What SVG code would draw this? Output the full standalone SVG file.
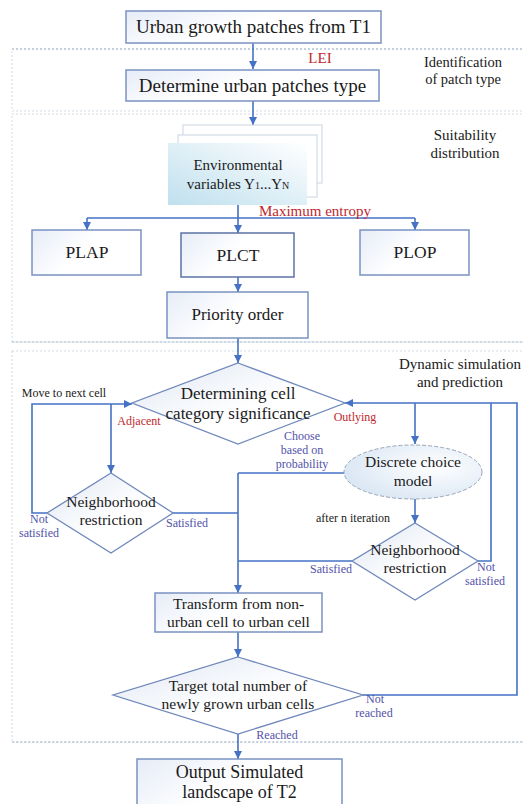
<svg xmlns="http://www.w3.org/2000/svg" width="523" height="804" viewBox="0 0 523 804" font-family="'Liberation Serif', 'DejaVu Serif', serif">
<defs>
<linearGradient id="boxg" x1="0" y1="0" x2="1" y2="0.4">
<stop offset="0" stop-color="#e6ecf7"/>
<stop offset="0.55" stop-color="#ffffff"/>
</linearGradient>
<linearGradient id="dg" x1="0" y1="0" x2="1" y2="1">
<stop offset="0" stop-color="#dfe7f3"/>
<stop offset="0.55" stop-color="#ffffff"/>
</linearGradient>
<linearGradient id="envg" x1="0" y1="1" x2="1" y2="0">
<stop offset="0" stop-color="#bfe0ee"/>
<stop offset="1" stop-color="#ffffff"/>
</linearGradient>
<radialGradient id="ellg" cx="0.65" cy="0.4" r="0.8">
<stop offset="0" stop-color="#ffffff"/>
<stop offset="1" stop-color="#d3e2f2"/>
</radialGradient>
<marker id="ah" viewBox="0 0 10 10" refX="10" refY="5" markerWidth="8" markerHeight="8" markerUnits="userSpaceOnUse" orient="auto">
<path d="M0,0 L10,5 L0,10 z" fill="#4472c4"/>
</marker>
<style>
.sec{fill:none;stroke:#a8bccd;stroke-width:1;stroke-dasharray:2 2}
.box{fill:url(#boxg);stroke:#7a92c2;stroke-width:1.5}
.dia{fill:url(#dg);stroke:#6f88bb;stroke-width:1.3}
.c{fill:none;stroke:#4472c4;stroke-width:1.6}
.a{marker-end:url(#ah)}
text{font-family:'Liberation Serif','DejaVu Serif',serif;fill:#1a1a1a;text-anchor:middle}
.red{fill:#c0282d}
.lb{fill:#5252aa}
.s12{font-size:12px}
</style>
</defs>

<g id="sections">
<rect class="sec" x="12" y="49" width="530" height="62" stroke-opacity="0.5"/>
<line x1="12" y1="49" x2="523" y2="49" stroke="#9fb3c8" stroke-dasharray="2 2"/>
<rect class="sec" x="12" y="114" width="530" height="228" stroke-opacity="0.5"/>
<line x1="12" y1="342" x2="523" y2="342" stroke="#9fb3c8" stroke-dasharray="2 2"/>
<rect class="sec" x="12" y="351" width="530" height="391" stroke-opacity="0.5"/>
<line x1="12" y1="742" x2="523" y2="742" stroke="#9fb3c8" stroke-dasharray="2 2"/>
<text x="463" y="67" font-size="14.5">Identification</text>
<text x="463" y="84" font-size="14.5">of patch type</text>
<text x="465" y="140" font-size="15">Suitability</text>
<text x="465" y="158" font-size="15">distribution</text>
<text x="460" y="369" font-size="15">Dynamic simulation</text>
<text x="460" y="387" font-size="15">and prediction</text>
</g>

<g id="connectors">
<path class="c a" d="M253,43 V69"/>
<path class="c a" d="M253,101 V125"/>
<path class="c" d="M238,205 V218 M87,218 H415"/>
<path class="c a" d="M87,218 V230"/>
<path class="c a" d="M238,218 V233"/>
<path class="c a" d="M415,218 V230"/>
<path class="c a" d="M238,277 V292"/>
<path class="c a" d="M238,338 V363"/>
<path class="c a" d="M47,513 H32 V404 H132"/>
<path class="c a" d="M111,404 V473"/>
<path class="c" d="M173,513 H238"/>
<path class="c" d="M344,473 H238"/>
<path class="c a" d="M238,473 V593"/>
<path class="c" d="M352,561 H238"/>
<path class="c" d="M478,561 H491 V403"/>
<path class="c a" d="M363,695 H517 V403 H345"/>
<path class="c a" d="M415,403 V444"/>
<path class="c a" d="M415,499 V523"/>
<path class="c a" d="M238,632 V657"/>
<path class="c a" d="M238,734 V759"/>
<text class="red" x="320" y="63" font-size="15">LEI</text>
<text class="red" x="315" y="216" font-size="15">Maximum entropy</text>
<text x="64" y="397" class="s12">Move to next cell</text>
<text class="red s12" x="139" y="425">Adjacent</text>
<text class="red s12" x="355" y="421">Outlying</text>
<text class="lb s12" x="302" y="440">Choose</text>
<text class="lb s12" x="302" y="454">based on</text>
<text class="lb s12" x="302" y="468">probability</text>
<text x="353" y="522" class="s12">after n iteration</text>
<text class="lb s12" x="39" y="523">Not</text>
<text class="lb s12" x="39" y="537">satisfied</text>
<text class="lb s12" x="187" y="527">Satisfied</text>
<text class="lb s12" x="331" y="573">Satisfied</text>
<text class="lb s12" x="486" y="571">Not</text>
<text class="lb s12" x="485" y="585">satisfied</text>
<text class="lb s12" x="375" y="703">Not</text>
<text class="lb s12" x="374" y="717">reached</text>
<text class="lb s12" x="277" y="739">Reached</text>
</g>

<g id="n-urban-growth">
<rect class="box" x="126" y="11" width="255" height="32"/>
<text x="253.5" y="33" font-size="19">Urban growth patches from T1</text>
</g>

<g id="n-determine-type">
<rect class="box" x="126" y="70" width="253" height="31"/>
<text x="252.5" y="92" font-size="19">Determine urban patches type</text>
</g>

<g id="n-env-vars">
<rect x="183" y="125" width="139" height="58" fill="#ffffff" stroke="#c9d4e2" stroke-width="1"/>
<rect x="178" y="135" width="139" height="62" fill="#ffffff" stroke="#c9d4e2" stroke-width="1"/>
<rect x="168" y="143" width="139" height="62" fill="url(#envg)"/>
<text x="238" y="170" font-size="15">Environmental</text>
<text x="238" y="189" font-size="15">variables Y<tspan font-size="10">1</tspan>...Y<tspan font-size="10">N</tspan></text>
</g>

<g id="n-plap">
<rect class="box" x="32" y="230" width="109" height="45"/>
<text x="87" y="258" font-size="17.5">PLAP</text>
</g>
<g id="n-plct">
<rect class="box" x="181" y="233" width="113" height="44" style="stroke:#5c73a6"/>
<text x="238" y="261" font-size="17.5">PLCT</text>
</g>
<g id="n-plop">
<rect class="box" x="360" y="230" width="109" height="45"/>
<text x="415" y="258" font-size="17.5">PLOP</text>
</g>

<g id="n-priority">
<rect class="box" x="167" y="292" width="141" height="46"/>
<text x="237.5" y="320" font-size="17">Priority order</text>
</g>

<g id="n-determining-cell">
<polygon class="dia" points="238,363 345,403 238,444 132,403"/>
<text x="238" y="399" font-size="17">Determining cell</text>
<text x="238" y="419" font-size="17">category significance</text>
</g>

<g id="n-neigh-left">
<polygon class="dia" points="111,473 173,513 111,553 47,513"/>
<text x="111" y="507" font-size="15.5">Neighborhood</text>
<text x="111" y="525" font-size="15.5">restriction</text>
</g>

<g id="n-discrete">
<ellipse cx="413" cy="472" rx="69" ry="27" fill="url(#ellg)" stroke="#9aa6b8" stroke-width="1" stroke-dasharray="4 2"/>
<text x="413" y="467" font-size="15.5">Discrete choice</text>
<text x="413" y="486" font-size="15.5">model</text>
</g>

<g id="n-neigh-right">
<polygon class="dia" points="415,523 478,561 415,600 352,561"/>
<text x="415" y="555" font-size="15.5">Neighborhood</text>
<text x="415" y="573" font-size="15.5">restriction</text>
</g>

<g id="n-transform">
<rect class="box" x="155" y="593" width="167" height="39"/>
<text x="238.5" y="609" font-size="15.5">Transform from non-</text>
<text x="238.5" y="627" font-size="15.5">urban cell to urban cell</text>
</g>

<g id="n-target">
<polygon class="dia" points="238,657 363,695 238,734 113,695"/>
<text x="238" y="691" font-size="15.5">Target total number of</text>
<text x="238" y="709" font-size="15.5">newly grown urban cells</text>
</g>

<g id="n-output">
<rect class="box" x="137" y="759" width="205" height="52"/>
<text x="239.5" y="778" font-size="18">Output Simulated</text>
<text x="239.5" y="798" font-size="18">landscape of T2</text>
</g>
</svg>
